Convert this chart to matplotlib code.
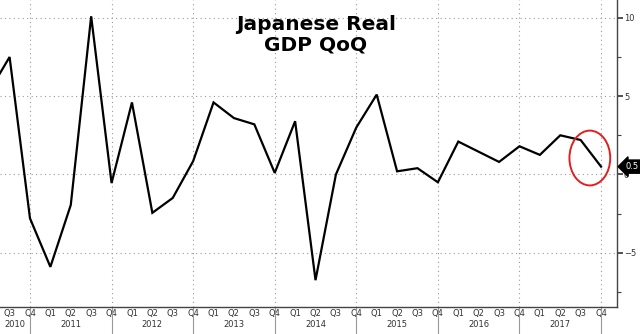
import numpy as np
import matplotlib
matplotlib.use("Agg")
import matplotlib.pyplot as plt
import matplotlib.transforms as mtransforms
from matplotlib.patches import Ellipse

# quarters from Q2 2010 to Q4 2017
quarters = ["Q2", "Q3", "Q4"] + ["Q1", "Q2", "Q3", "Q4"] * 7
years = ["2010", "2011", "2012", "2013", "2014", "2015", "2016", "2017"]
gdp_qoq = [5.3, 7.5, -2.8, -5.9, -1.95, 10.1, -0.55,
           4.6, -2.45, -1.5, 0.85,
           4.6, 3.6, 3.2, 0.1,
           3.4, -6.75, 0.0, 3.0,
           5.1, 0.2, 0.4, -0.5,
           2.1, 1.45, 0.8, 1.8,
           1.25, 2.5, 2.2, 0.5]
last_label = "0.5"

x = np.arange(len(gdp_qoq))
q4_pos = [i for i, q in enumerate(quarters) if q == "Q4"]

fig = plt.figure(figsize=(6.4, 3.34), dpi=100)
ax = fig.add_axes([0.0, 0.081, 0.964, 0.919])

ax.plot(x, gdp_qoq, color="black", lw=1.6, solid_joinstyle="miter", zorder=3)

ax.set_xlim(0.53, 30.78)
ax.set_ylim(-8.46, 11.14)

# dotted grid
for yv in [-5, 0, 5, 10]:
    ax.axhline(yv, color="#9a9a9a", lw=0.8, ls=(0, (1, 3)), zorder=1)
for xv in q4_pos:
    ax.axvline(xv, color="#9a9a9a", lw=0.8, ls=(0, (1, 3)), zorder=1)

# spines
for s in ["left", "top"]:
    ax.spines[s].set_visible(False)
ax.spines["right"].set_color("#444444")
ax.spines["bottom"].set_color("#444444")
ax.spines["right"].set_linewidth(1.0)
ax.spines["bottom"].set_linewidth(1.0)

# right y axis
ax.yaxis.tick_right()
ax.set_yticks([-5, 0, 5, 10])
ax.set_yticks([-7.5, -2.5, 2.5, 7.5], minor=True)
ax.tick_params(axis="y", which="major", length=4, width=1.2, color="#333333",
               labelsize=6, labelcolor="#333333", pad=1)
ax.tick_params(axis="y", which="minor", length=3, width=0.8, color="#444444")

# quarter labels (the first quarter falls outside the view)
ax.set_xticks(x[1:])
ax.set_xticklabels(quarters[1:])
ax.tick_params(axis="x", length=0, labelsize=6, labelcolor="#333333", pad=1.5)

# year separators and labels below the axis
trans = mtransforms.blended_transform_factory(ax.transData, ax.transAxes)
for xv in q4_pos:
    ax.plot([xv, xv], [0, -0.092], color="#999999", lw=0.8,
            transform=trans, clip_on=False)
year_bounds = [0.53] + q4_pos
for k, yr in enumerate(years):
    left = year_bounds[k]
    right = year_bounds[k + 1] if k + 1 < len(year_bounds) else 30.78
    ax.text((left + right) / 2, -0.058, yr, transform=trans, ha="center",
            va="center", fontsize=6, color="#333333")

# title
ax.text(0.512, 0.95, "Japanese Real\nGDP QoQ", transform=ax.transAxes,
        ha="center", va="top", fontsize=14.5, fontweight="bold",
        linespacing=1.05)

# highlight of the last quarter
ax.add_patch(Ellipse((29.45, 1.05), 2.0, 3.5, fill=False, edgecolor="#e02020",
                     lw=1.4, zorder=4))

# last value tag
ax.annotate(last_label, xy=(1.0, gdp_qoq[-1]), xycoords=("axes fraction", "data"),
            xytext=(6, 0), textcoords="offset points", ha="left", va="center",
            fontsize=6, color="white", annotation_clip=False,
            bbox=dict(boxstyle="larrow,pad=0.25", fc="black", ec="black"))

fig.savefig("out.png", dpi=100, facecolor="white")
